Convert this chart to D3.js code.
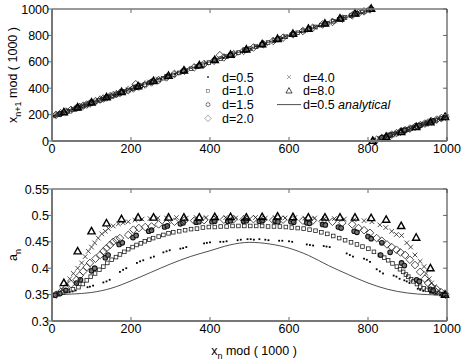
<!DOCTYPE html>
<html>
<head>
<meta charset="utf-8">
<script src="https://cdn.jsdelivr.net/npm/d3@7"></script>
<style>
  body { margin: 0; background: #fff; }
  text { font-family: "Liberation Sans", Arial, sans-serif; fill: #000; }
</style>
</head>
<body>
<div id="chart"></div>
<script>
var W = 463, H = 363;

// ---- data ----
var xTicks = [0, 200, 400, 600, 800, 1000];
var yTopTicks = [0, 200, 400, 600, 800, 1000];
var yBotTicks = [0.3, 0.35, 0.4, 0.45, 0.5, 0.55];
var yBotLabels = ["0.3", "0.35", "0.4", "0.45", "0.5", "0.55"];

var legendNames = ["d=0.5", "d=1.0", "d=1.5", "d=2.0", "d=4.0", "d=8.0", "d=0.5"];

// bottom: [x_n, a_n]
var aDots = [[5,0.349],[12,0.35],[20,0.351],[45,0.355],[52,0.356],[60,0.358],[90,0.364],[96,0.365],[104,0.367],[130,0.373],[138,0.375],[146,0.378],[172,0.393],[180,0.397],[188,0.4],[215,0.41],[223,0.413],[231,0.415],[250,0.42],[258,0.422],[282,0.43],[290,0.432],[298,0.434],[325,0.437],[332,0.438],[340,0.44],[385,0.447],[392,0.448],[400,0.449],[426,0.45],[434,0.45],[442,0.451],[470,0.453],[478,0.454],[495,0.455],[503,0.455],[511,0.454],[525,0.455],[540,0.454],[548,0.453],[575,0.452],[583,0.452],[600,0.451],[608,0.45],[645,0.445],[653,0.444],[661,0.443],[688,0.442],[695,0.441],[703,0.44],[746,0.428],[754,0.425],[762,0.422],[790,0.418],[797,0.416],[805,0.412],[822,0.398],[830,0.394],[838,0.39],[865,0.386],[872,0.384],[880,0.38],[892,0.377],[898,0.375],[905,0.372],[926,0.361],[932,0.359],[940,0.357],[958,0.354],[965,0.353],[972,0.352],[985,0.35],[995,0.349]];
var aSquares = [[5,0.349],[15,0.351],[28,0.354],[40,0.357],[53,0.36],[67,0.364],[78,0.37],[88,0.377],[98,0.384],[109,0.39],[120,0.397],[130,0.403],[140,0.41],[151,0.416],[162,0.421],[172,0.426],[183,0.431],[193,0.436],[204,0.44],[214,0.444],[225,0.447],[235,0.451],[246,0.454],[256,0.457],[270,0.46],[282,0.463],[295,0.466],[307,0.468],[322,0.47],[337,0.472],[352,0.474],[367,0.475],[382,0.477],[397,0.478],[412,0.478],[427,0.479],[442,0.479],[457,0.48],[472,0.48],[487,0.48],[502,0.48],[517,0.48],[532,0.48],[547,0.479],[562,0.479],[577,0.479],[592,0.478],[607,0.477],[622,0.476],[637,0.475],[652,0.473],[667,0.471],[682,0.468],[697,0.465],[712,0.461],[727,0.457],[742,0.453],[757,0.449],[772,0.445],[786,0.441],[801,0.437],[815,0.431],[830,0.425],[841,0.42],[851,0.415],[862,0.409],[873,0.403],[881,0.398],[889,0.393],[896,0.388],[902,0.384],[909,0.379],[915,0.375],[924,0.37],[932,0.365],[941,0.362],[949,0.359],[960,0.356],[972,0.353],[985,0.351],[996,0.349]];
var aCircles = [[8,0.349],[20,0.352],[35,0.358],[62,0.372],[72,0.378],[100,0.395],[108,0.4],[135,0.42],[142,0.425],[170,0.445],[178,0.448],[205,0.458],[213,0.462],[245,0.47],[252,0.472],[285,0.478],[292,0.48],[325,0.484],[332,0.486],[365,0.487],[372,0.488],[405,0.488],[412,0.489],[445,0.489],[452,0.49],[485,0.489],[492,0.49],[525,0.489],[532,0.49],[565,0.489],[572,0.488],[605,0.488],[612,0.487],[645,0.486],[652,0.485],[685,0.483],[692,0.482],[725,0.478],[732,0.476],[765,0.47],[772,0.468],[800,0.46],[808,0.456],[832,0.425],[835,0.448],[856,0.43],[885,0.41],[892,0.405],[923,0.378],[930,0.375],[958,0.36],[965,0.358],[990,0.35]];
var aDiamonds = [[10,0.35],[22,0.355],[35,0.362],[48,0.37],[62,0.378],[70,0.386],[79,0.394],[88,0.402],[96,0.41],[110,0.418],[122,0.425],[130,0.432],[138,0.438],[147,0.444],[155,0.45],[163,0.454],[172,0.457],[193,0.463],[206,0.473],[220,0.476],[236,0.478],[252,0.479],[270,0.483],[290,0.485],[310,0.488],[335,0.49],[360,0.49],[385,0.491],[410,0.492],[435,0.492],[460,0.493],[485,0.492],[510,0.493],[535,0.492],[560,0.491],[585,0.492],[610,0.491],[635,0.49],[660,0.49],[685,0.489],[710,0.488],[735,0.486],[760,0.483],[776,0.476],[790,0.472],[805,0.467],[822,0.457],[835,0.452],[848,0.445],[860,0.44],[872,0.435],[882,0.43],[894,0.425],[906,0.416],[919,0.406],[932,0.393],[944,0.38],[952,0.372],[961,0.365],[974,0.36],[986,0.354],[996,0.35]];
var aCrosses = [[15,0.352],[25,0.36],[37,0.372],[45,0.38],[54,0.39],[65,0.4],[75,0.41],[84,0.422],[92,0.432],[100,0.44],[108,0.448],[117,0.457],[126,0.465],[135,0.47],[143,0.475],[155,0.48],[168,0.484],[180,0.486],[193,0.488],[210,0.491],[228,0.493],[248,0.494],[268,0.495],[290,0.495],[315,0.496],[340,0.495],[365,0.496],[390,0.496],[415,0.495],[440,0.496],[465,0.495],[490,0.496],[515,0.496],[540,0.495],[565,0.496],[590,0.495],[615,0.496],[640,0.495],[665,0.495],[690,0.494],[715,0.494],[740,0.493],[765,0.492],[790,0.49],[810,0.488],[830,0.482],[845,0.477],[860,0.47],[872,0.464],[885,0.462],[898,0.448],[908,0.44],[919,0.425],[932,0.413],[942,0.403],[947,0.39],[955,0.38],[961,0.372],[968,0.365],[978,0.358],[988,0.352],[998,0.349]];
var aTriangles = [[30,0.372],[65,0.432],[100,0.47],[138,0.485],[176,0.493],[218,0.496],[257,0.496],[295,0.496],[334,0.496],[373,0.496],[412,0.497],[452,0.497],[492,0.496],[532,0.497],[571,0.498],[610,0.497],[649,0.496],[691,0.496],[729,0.496],[767,0.496],[808,0.495],[846,0.492],[884,0.48],[922,0.458],[958,0.4],[995,0.35]];
var aAnalytical = [[0,0.35],[50,0.351],[100,0.354],[150,0.362],[200,0.376],[250,0.392],[300,0.408],[350,0.422],[400,0.433],[450,0.444],[500,0.449],[550,0.446],[600,0.438],[650,0.424],[700,0.405],[750,0.388],[800,0.372],[850,0.36],[900,0.353],[950,0.35],[1000,0.349]];

// top: [x_n, x_{n+1}]
var tDots = [[5,190],[28,214],[52,238],[74,261],[96,284],[117,304],[138,326],[160,349],[180,370],[202,392],[223,414],[240,432],[258,450],[275,468],[290,482],[312,505],[332,525],[362,556],[392,586],[412,606],[434,628],[456,650],[478,672],[503,698],[520,715],[540,735],[562,757],[583,778],[608,803],[630,825],[653,848],[675,870],[695,890],[725,918],[754,948],[775,970],[797,990],[812,3],[830,22],[850,42],[872,62],[898,87],[915,104],[932,120],[950,138],[965,152],[980,168],[995,182]];
var tSquares = [[5,190],[15,200],[28,213],[40,225],[53,238],[67,252],[78,265],[88,275],[98,286],[109,296],[120,308],[130,318],[140,330],[151,341],[162,352],[172,362],[183,374],[193,385],[204,396],[214,406],[225,418],[235,428],[246,440],[256,450],[270,462],[282,476],[295,488],[307,500],[322,516],[337,532],[352,548],[367,562],[382,578],[397,594],[412,608],[427,624],[442,640],[457,654],[472,670],[487,685],[502,700],[517,715],[532,730],[547,746],[562,760],[577,776],[592,790],[607,805],[622,820],[637,834],[652,850],[667,864],[682,878],[697,892],[712,906],[727,922],[742,936],[757,950],[772,964],[786,978],[801,992],[815,5],[830,18],[841,28],[851,38],[862,50],[873,60],[881,68],[889,77],[896,83],[902,88],[909,95],[915,102],[924,110],[932,118],[941,128],[949,136],[960,146],[972,158],[985,170],[996,182]];
var tCircles = [[20,205],[62,250],[100,290],[142,333],[178,372],[213,408],[252,448],[292,488],[332,530],[372,570],[412,612],[452,652],[492,692],[532,732],[572,772],[612,810],[652,850],[692,888],[732,926],[772,965],[808,998],[835,25],[856,45],[892,82],[930,118],[965,152]];
var tDiamonds = [[10,198],[22,210],[35,223],[48,236],[62,250],[70,258],[79,267],[88,276],[96,284],[110,302],[122,314],[130,322],[138,330],[147,339],[155,347],[163,355],[172,364],[193,385],[206,398],[212,430],[220,412],[236,428],[252,444],[270,462],[290,482],[310,508],[335,533],[360,558],[385,583],[410,608],[425,650],[435,633],[460,658],[485,683],[510,708],[535,733],[560,758],[585,783],[610,808],[635,833],[660,858],[685,883],[710,902],[735,927],[760,952],[776,968],[790,982],[805,997],[822,10],[835,23],[848,36],[860,48],[872,60],[882,70],[894,82],[906,94],[919,107],[932,120],[944,132],[952,140],[961,149],[974,162],[986,174],[996,184]];
var tCrosses = [[15,200],[25,211],[37,223],[45,231],[54,240],[65,251],[75,262],[84,272],[92,281],[100,290],[108,298],[117,307],[126,318],[135,327],[143,335],[155,348],[168,361],[180,373],[193,388],[210,405],[228,425],[248,446],[268,467],[290,490],[315,514],[340,540],[365,565],[390,590],[415,615],[440,640],[465,665],[490,690],[515,715],[540,740],[565,765],[590,790],[615,815],[640,839],[665,862],[690,886],[715,910],[740,934],[765,958],[790,980],[810,998],[830,16],[845,30],[860,45],[872,58],[885,72],[898,85],[908,95],[919,106],[932,118],[942,128],[947,133],[955,141],[961,148],[968,155],[978,165],[988,176],[998,186]];
var tTriangles = [[30,218],[65,255],[100,292],[138,332],[176,372],[218,415],[257,455],[295,494],[334,535],[373,574],[412,614],[452,654],[492,694],[532,734],[571,774],[610,812],[649,851],[691,890],[729,928],[767,966],[808,1002],[812,2],[846,32],[884,68],[922,106],[958,142],[995,182]];
var tAnalyticalA = [[0,185],[100,290],[200,395],[300,500],[400,600],[500,700],[600,800],[700,895],[815,1000]];
var tAnalyticalB = [[815,0],[900,85],[1000,185]];

// ---- layout ----
var svg = d3.select("#chart").append("svg")
    .attr("width", W).attr("height", H);

var x = d3.scaleLinear().domain([0, 1000]).range([52, 447]);
var yTop = d3.scaleLinear().domain([0, 1000]).range([141, 9]);
var yBot = d3.scaleLinear().domain([0.3, 0.55]).range([321, 189]);

// marker shapes, centred on 0,0; w = stroke width factor
var markers = {
  dot: function(g) { g.append("rect").attr("x", -0.9).attr("y", -0.9).attr("width", 1.8).attr("height", 1.8).attr("fill", "#000"); },
  square: function(g, w) { g.append("rect").attr("x", -1.8).attr("y", -1.8).attr("width", 3.6).attr("height", 3.6)
      .attr("fill", "none").attr("stroke", "#222").attr("stroke-width", 0.8 * w); },
  circle: function(g, w, dark) { g.append("circle").attr("r", 2.3).attr("fill", dark ? "#777" : "none")
      .attr("stroke", "#111").attr("stroke-width", 1.1 * w); },
  diamond: function(g, w) { g.append("path").attr("d", "M0,-3.8L3.8,0L0,3.8L-3.8,0Z")
      .attr("fill", "none").attr("stroke", "#222").attr("stroke-width", 0.8 * w); },
  cross: function(g, w) { g.append("path").attr("d", "M-2.3,-2.3L2.3,2.3M-2.3,2.3L2.3,-2.3")
      .attr("fill", "none").attr("stroke", "#222").attr("stroke-width", 0.8 * w); },
  triangle: function(g, w) { g.append("path").attr("d", "M0,-3.8L3.6,2.6L-3.6,2.6Z")
      .attr("fill", "none").attr("stroke", "#000").attr("stroke-width", 1.4 * w); }
};

function drawPoints(layer, data, yScale, kind, dark) {
  layer.selectAll(null).data(data).enter().append("g")
    .attr("transform", function(d) { return "translate(" + x(d[0]) + "," + yScale(d[1]) + ")"; })
    .each(function() { markers[kind](d3.select(this), 1, dark); });
}

function drawLine(layer, data, yScale) {
  layer.append("path").datum(data)
    .attr("fill", "none").attr("stroke", "#222").attr("stroke-width", 0.8)
    .attr("d", d3.line().curve(d3.curveMonotoneX)
      .x(function(d) { return x(d[0]); }).y(function(d) { return yScale(d[1]); }));
}

function frame(yScale, yVals, yLabels) {
  var top = yScale.range()[1], bot = yScale.range()[0];
  var g = svg.append("g");
  // ticks
  xTicks.forEach(function(t) {
    g.append("line").attr("x1", x(t)).attr("x2", x(t)).attr("y1", bot).attr("y2", bot - 4).attr("stroke", "#666");
    g.append("line").attr("x1", x(t)).attr("x2", x(t)).attr("y1", top).attr("y2", top + 4).attr("stroke", "#666");
    g.append("text").attr("x", x(t)).attr("y", bot + 12).attr("text-anchor", "middle")
      .style("font-size", "12.5px").text(t);
  });
  yVals.forEach(function(t, i) {
    g.append("line").attr("x1", 52).attr("x2", 48).attr("y1", yScale(t)).attr("y2", yScale(t)).attr("stroke", "#666");
    g.append("line").attr("x1", 447).attr("x2", 443).attr("y1", yScale(t)).attr("y2", yScale(t)).attr("stroke", "#666");
    g.append("text").attr("x", 49).attr("y", yScale(t) + 4.5).attr("text-anchor", "end")
      .style("font-size", "12.5px").text(yLabels ? yLabels[i] : t);
  });
  g.append("line").attr("x1", 52).attr("x2", 447).attr("y1", top).attr("y2", top).attr("stroke", "#777").attr("stroke-width", 1.5);
  g.append("line").attr("x1", 447).attr("x2", 447).attr("y1", top).attr("y2", bot).attr("stroke", "#333").attr("stroke-width", 1);
  g.append("line").attr("x1", 52).attr("x2", 447).attr("y1", bot).attr("y2", bot).attr("stroke", "#777").attr("stroke-width", 2);
  g.append("line").attr("x1", 52).attr("x2", 52).attr("y1", top).attr("y2", bot).attr("stroke", "#777").attr("stroke-width", 2);
}

// ---- top panel ----
var topLayer = svg.append("g");
drawLine(topLayer, tAnalyticalA, yTop);
drawLine(topLayer, tAnalyticalB, yTop);
drawPoints(topLayer, tDots, yTop, "dot");
drawPoints(topLayer, tSquares, yTop, "square");
drawPoints(topLayer, tCircles, yTop, "circle", true);
drawPoints(topLayer, tDiamonds, yTop, "diamond");
drawPoints(topLayer, tCrosses, yTop, "cross");
drawPoints(topLayer, tTriangles, yTop, "triangle");
frame(yTop, yTopTicks);

// legend
var leg = svg.append("g");
var legKinds = ["dot", "square", "circle", "diamond", "cross", "triangle"];
legKinds.forEach(function(k, i) {
  var col = i < 4 ? 0 : 1, row = i < 4 ? i : i - 4;
  var mx = col ? 289 : 208, ty = 77 + row * 13.8;
  var g = leg.append("g").attr("transform", "translate(" + mx + "," + ty + ") scale(0.85)");
  markers[k](g, 0.6);
  leg.append("text").attr("x", mx + 14).attr("y", ty + 4.5).style("font-size", "12.5px").text(legendNames[i]);
});
leg.append("line").attr("x1", 277).attr("x2", 301).attr("y1", 104.6).attr("y2", 104.6).attr("stroke", "#222").attr("stroke-width", 0.8);
var lt = leg.append("text").attr("x", 303).attr("y", 109).style("font-size", "12.5px");
lt.append("tspan").text(legendNames[6] + "  ");
lt.append("tspan").style("font-style", "italic").text("analytical");

// axis label, top
var yl = svg.append("text").attr("transform", "translate(17,75) rotate(-90)")
  .attr("text-anchor", "middle").style("font-size", "12.5px");
yl.append("tspan").text("x");
yl.append("tspan").attr("dy", 4).style("font-size", "9px").text("n+1");
yl.append("tspan").attr("dy", -4).text(" mod ( 1000 )");

// ---- bottom panel ----
var botLayer = svg.append("g");
drawLine(botLayer, aAnalytical, yBot);
drawPoints(botLayer, aDots, yBot, "dot");
drawPoints(botLayer, aSquares, yBot, "square");
drawPoints(botLayer, aCircles, yBot, "circle", true);
drawPoints(botLayer, aDiamonds, yBot, "diamond");
drawPoints(botLayer, aCrosses, yBot, "cross");
drawPoints(botLayer, aTriangles, yBot, "triangle");
frame(yBot, yBotTicks, yBotLabels);

var al = svg.append("text").attr("transform", "translate(17,255) rotate(-90)")
  .attr("text-anchor", "middle").style("font-size", "12.5px");
al.append("tspan").text("a");
al.append("tspan").attr("dy", 4).style("font-size", "9px").text("n");

var xl = svg.append("text").attr("x", 254).attr("y", 355)
  .attr("text-anchor", "middle").style("font-size", "12.5px");
xl.append("tspan").text("x");
xl.append("tspan").attr("dy", 4).style("font-size", "9px").text("n");
xl.append("tspan").attr("dy", -4).text(" mod ( 1000 )");
</script>
</body>
</html>
